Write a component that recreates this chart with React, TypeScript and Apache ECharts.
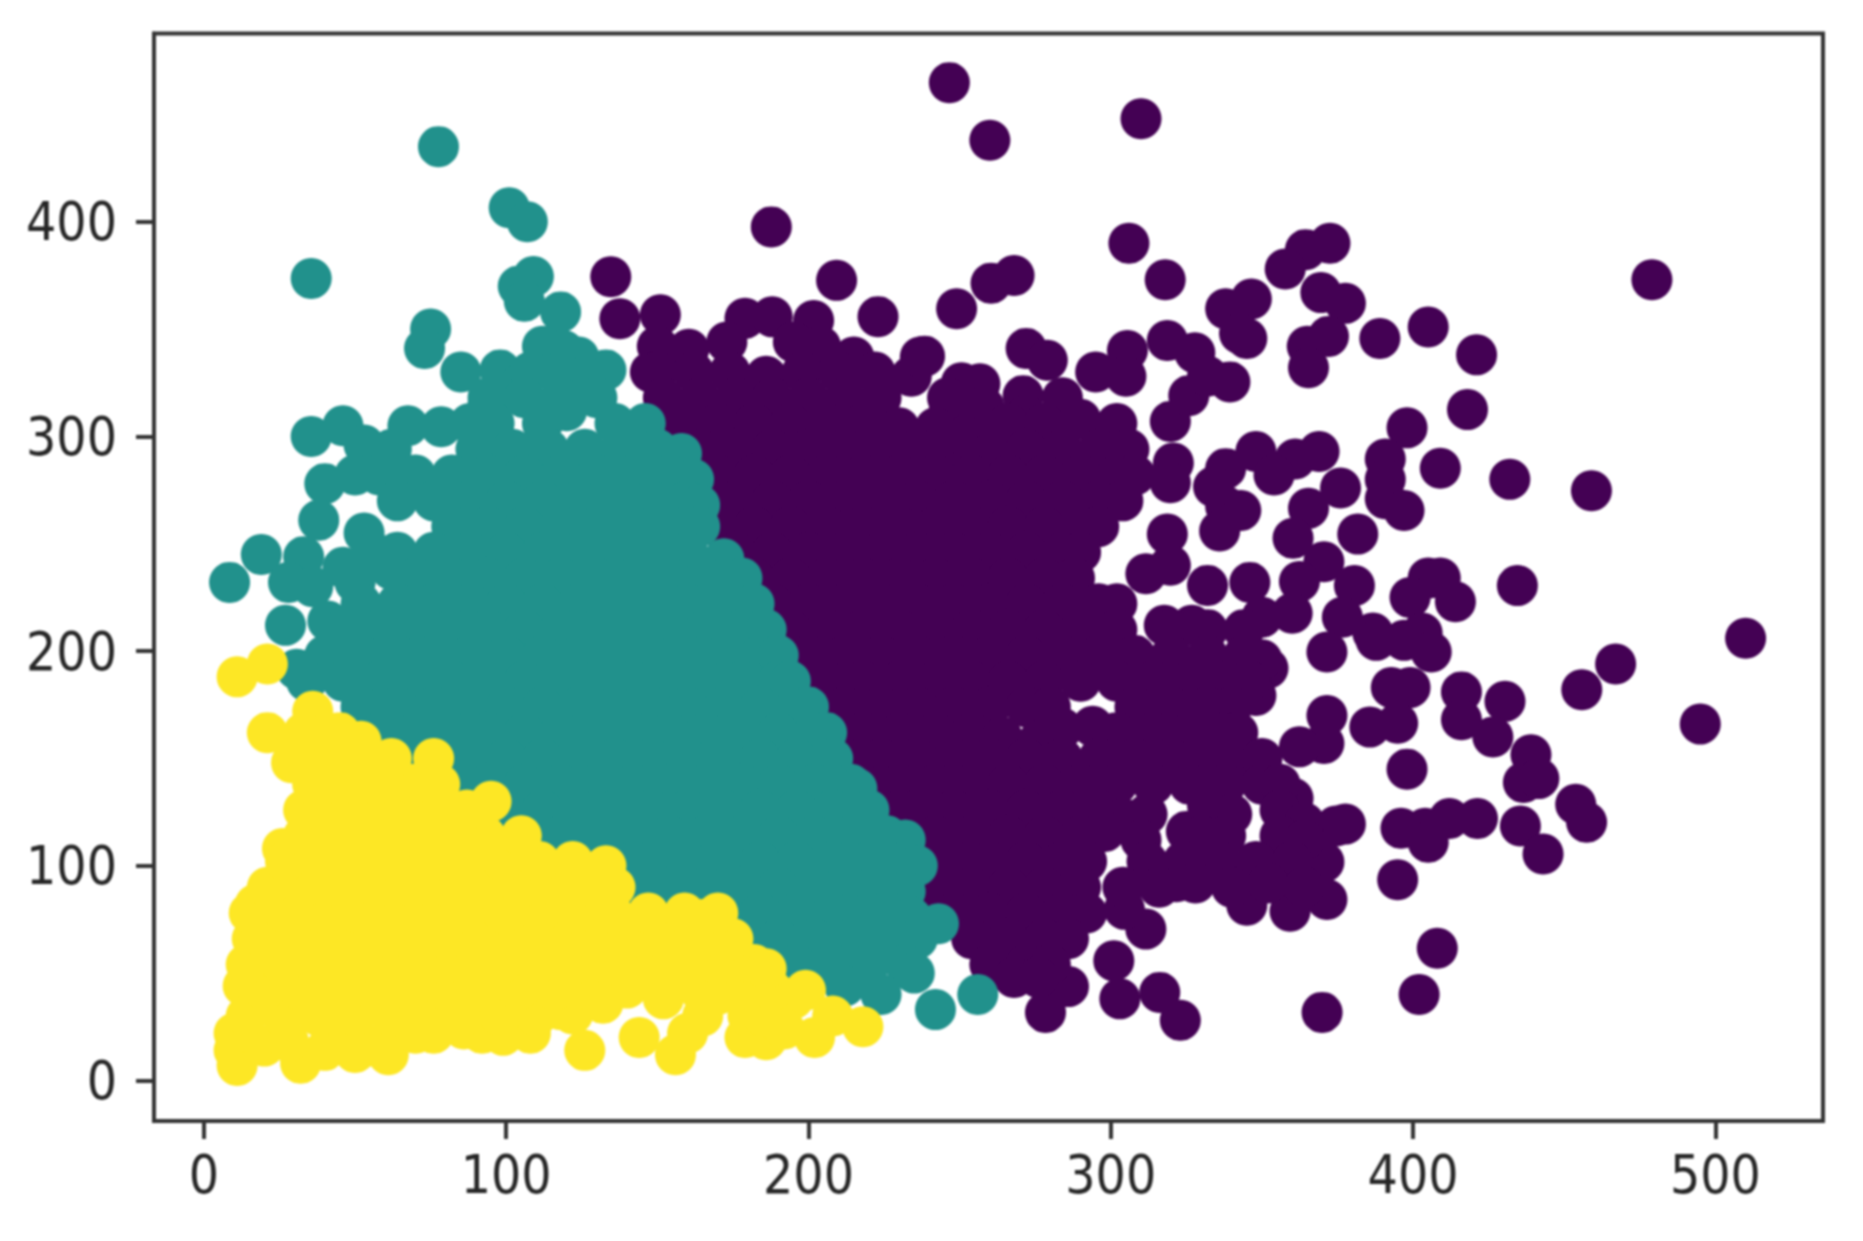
import React, { useEffect, useRef } from "react";
import * as echarts from "echarts";

const xTicks = [0, 100, 200, 300, 400, 500];
const yTicks = [0, 100, 200, 300, 400];

const yellowPoints = [
  [11,7],[32,8],[61,12],[10,14],[126,14],[144,20],[156,12],[179,20],[186,19],[202,20],[218,25],[11,188],[21,194],[21,162],[29,148],[26,108],[17,82],[16,66],[13,44],[10,22],[76,22],[99,21],[108,22],[122,31],[140,43],[40,14],[50,13],[20,16],[165,30],[160,22],[170,40],[189,28],[195,38],[165,75],[95,130],[76,150],[133,100],[36,172],[52,158],
  [28,18],[44,17],[56,16],[70,22],[86,24],[92,22],[118,33],[132,36],[152,38],[180,30],[192,24],
  [14,30],[26,30],[38,30],[50,30],[62,30],[74,30],[86,30],[98,30],[110,30],[185,30],[208,30],
  [20,42],[32,42],[44,42],[56,42],[68,42],[80,42],[92,42],[104,42],[116,42],[128,42],[152,42],[164,42],[176,42],[188,42],[199,42],
  [14,54],[26,54],[38,54],[50,54],[62,54],[74,54],[86,54],[98,54],[110,54],[122,54],[134,54],[146,54],[158,54],[170,54],[182,54],[186,52],
  [20,66],[32,66],[44,66],[56,66],[68,66],[80,66],[92,66],[104,66],[116,66],[128,66],[140,66],[152,66],[164,66],[175,66],
  [15,78],[27,78],[39,78],[51,78],[63,78],[75,78],[87,78],[99,78],[111,78],[123,78],[135,78],[147,78],[159,78],[170,78],
  [21,90],[33,90],[45,90],[57,90],[69,90],[81,90],[93,90],[105,90],[117,90],[129,90],[136,90],
  [27,102],[39,102],[51,102],[63,102],[75,102],[87,102],[99,102],[111,102],[122,102],
  [33,114],[45,114],[57,114],[69,114],[81,114],[93,114],[105,114],
  [33,126],[39,126],[51,126],[63,126],[75,126],[87,126],
  [36,138],[45,138],[57,138],[69,138],[78,138],
  [30,150],[39,150],[51,150],[62,150],
  [33,162],[45,162],
];

const tealPoints = [
  [77.6,435],[101,406.5],[107,400],[35.5,373.6],[109,374.5],[104,370],[106,363],[118,358],[75,350],[73,341],[85,330],[98,331],[133,331],[112,342],[119,340],[124,337],
  [35.5,300],[46,305],[53,296],[67.5,305],[78.5,304.5],[40,278],[50,282],[38,261],[19,245],[8.5,232],[33,244],[28,232],[46,239],[36,230],[27,212],[41,214],[53,255],[94,315],[105,325],[30.7,191.5],[242,33],[256,40],[243,73],
  [108,330],[118,330],[126,328],
  [94,318],[106,318],[118,318],[130,318],
  [88,306],[96,306],[112,306],[120,312],[136,306],[146,306],
  [62,294],[90,294],[102,294],[114,294],[126,294],[138,294],[150,294],[158,292],
  [58,282],[70,282],[82,282],[94,282],[106,282],[118,282],[130,282],[142,282],[154,282],[162,280],
  [64,270],[76,270],[88,270],[100,270],[112,270],[124,270],[136,270],[148,270],[160,270],[164,268],
  [82,258],[94,258],[106,258],[118,258],[130,258],[142,258],[154,258],[164,258],
  [56,246],[64,246],[76,246],[88,246],[100,246],[112,246],[124,246],[136,246],[148,246],[160,246],[172,243],
  [50,232],[62,238],[70,234],[82,234],[94,234],[106,234],[118,234],[130,234],[142,234],[154,234],[166,234],[178,234],
  [52,222],[64,222],[76,222],[88,222],[100,222],[112,222],[124,222],[136,222],[148,222],[160,222],[172,222],[182,222],
  [46,210],[58,210],[70,210],[82,210],[94,210],[106,210],[118,210],[130,210],[142,210],[154,210],[166,210],[178,210],[186,210],
  [40,198],[52,198],[64,198],[76,198],[88,198],[100,198],[112,198],[124,198],[136,198],[148,198],[160,198],[172,198],[184,198],[190,198],
  [34,186],[46,186],[58,186],[70,186],[82,186],[94,186],[106,186],[118,186],[130,186],[142,186],[154,186],[166,186],[178,186],[190,186],[194,186],
  [52,174],[64,174],[76,174],[88,174],[100,174],[112,174],[124,174],[136,174],[148,174],[160,174],[172,174],[184,174],[196,174],[200,174],
  [58,162],[70,162],[82,162],[94,162],[106,162],[118,162],[130,162],[142,162],[154,162],[166,162],[178,162],[190,162],[202,162],[206,162],
  [64,150],[76,150],[88,150],[100,150],[112,150],[124,150],[136,150],[148,150],[160,150],[172,150],[184,150],[196,150],[208,150],
  [82,138],[94,138],[106,138],[118,138],[130,138],[142,138],[154,138],[166,138],[178,138],[190,138],[202,138],[214,138],[216,136],
  [88,126],[100,126],[112,126],[124,126],[136,126],[148,126],[160,126],[172,126],[184,126],[196,126],[208,126],[220,126],
  [106,114],[118,114],[130,114],[142,114],[154,114],[166,114],[178,114],[190,114],[202,114],[214,114],[226,114],[232,112],
  [124,102],[136,102],[148,102],[160,102],[172,102],[184,102],[196,102],[208,102],[220,102],[232,102],[236,100],
  [142,90],[154,90],[166,90],[178,90],[190,90],[202,90],[214,90],[226,90],[232,88],
  [172,78],[184,78],[196,78],[208,78],[220,78],[232,78],[234,76],
  [178,66],[190,66],[202,66],[214,66],[226,66],[236,66],
  [196,54],[208,54],[220,54],[232,54],[235,50],
  [212,44],[224,40],
];

const purplePoints = [
  [246.6,464.8],[260,438],[310,448],[306,390],[318,373],[268,375],[260.4,371.4],[249,359.5],[372.5,390],[364.4,387],[357.7,378],[369.5,367],[377.6,362],[346.5,364],[338,359.5],[345,345.6],[342.6,348],[372,346.6],[365,342],[365.4,332],[389,345.6],[405,351],[421,338],[479,373],[418,312.5],[398,304],[319.7,307],[325.8,319],[339.4,325.4],[332,328],[327.8,339],[318.7,344.7],[305.5,340],[295,330],[305,328],[272,341],[279,335.5],[238.4,337.4],[234,328],[250.6,325],[256.7,324.5],[271,319],[246.6,312.5],[254.7,300.5],[409,285.2],[432,280],[459,274.7],[376,276],[365.4,266.5],[381.7,254.5],[368.9,293],[361,289.5],[348,293],[354,282],[338,285],[320.7,287.6],[319.7,278.4],[390.8,289.5],[390.8,280],[390.8,271],[397,265.5],[338,267.4],[336,256],[343,265.5],[334,276.6],[360.3,252.6],[318.7,254.5],[434.5,230.5],[405,234],[399,225],[414,223],[409,234],[370.5,241.6],[380.6,230.5],[362.4,232.4],[346,232],[332,230.6],[319.7,240],[311.6,236],[376.6,215.8],[360,217.6],[350,215.8],[326.8,212],[317.7,212],[386.7,208.4],[403,208.4],
  [510,206],[467,194],[455.8,182],[495,166],[371.5,199.6],[387.8,205],[397,205],[406,199.6],[392.8,183],[399,183],[394.9,166.4],[385.7,164.6],[371.5,170],[370.5,157],[362.4,155.4],[416,181],[416,168],[430.4,176.6],[426.4,160],[398,145],[439,151.7],[436.5,138.8],[441.6,140.6],[453.8,128.6],[457.4,120.3],[435.5,118.5],[443,105.5],[421.3,122],[412,122],[404,117.5],[396,117.5],[405,111],[394.9,93.5],[377.6,119.4],[374.5,118.5],[408,61.6],[402,40],[369.9,31.7],[323,28],[316.2,41],[303,38],[301,55.7],[278.4,31.7],[286,43.7],[311.6,70.5],[304.5,79.7],[345,81.6],[359.3,78.8],[371.5,84.3],[370.5,101.8],[362,103.7],[344,96],[321.7,92.6],[311.6,94.5],[331.9,105.5],[360.3,131.4],[352,192],[348,179.3],[350,196],
  [134.6,374.4],[137.6,354.8],[187.7,397.6],[209.3,372.7],[223,355.8],[151,356.7],[150,342],[160.4,340.6],[179,355],[188,355.7],[201.7,354],[173,344],[215,337],[237,337],[147.7,330],[195,344],[204,342],
  [150,330],[162,330],[174,330],[186,328],[198,330],[210,330],[222,330],
  [152,318],[164,318],[176,318],[188,318],[200,318],[212,318],[224,318],[246,318],[258,314],[272,310],[284,318],
  [158,306],[170,306],[182,306],[194,306],[206,306],[218,306],[230,304],[242,304],[266,306],[278,306],[290,308],[302,306],
  [164,294],[176,294],[188,294],[200,294],[212,294],[224,294],[236,294],[248,292],[252,300],[260,292],[272,294],[284,294],[296,294],[306,294],
  [170,282],[182,282],[194,282],[206,282],[218,282],[230,282],[242,282],[254,282],[266,282],[278,282],[290,282],[302,282],[308,282],
  [176,270],[188,270],[200,270],[212,270],[224,270],[236,270],[248,270],[260,270],[272,270],[284,270],[296,270],[304,270],
  [170,258],[182,258],[194,258],[206,258],[218,258],[230,258],[242,258],[254,258],[266,258],[278,258],[290,258],[296,258],
  [176,246],[188,246],[200,246],[212,246],[224,246],[236,246],[248,246],[260,246],[272,246],[284,246],[290,246],
  [182,234],[194,234],[206,234],[218,234],[230,234],[242,234],[254,234],[266,234],[278,234],[288,234],
  [188,222],[200,222],[212,222],[224,222],[236,222],[248,222],[260,222],[272,222],[284,222],[296,222],[302,222],
  [194,210],[206,210],[218,210],[230,210],[242,210],[254,210],[266,210],[278,210],[290,210],[302,210],[320,210],[332,210],[344,210],
  [188,198],[200,198],[212,198],[224,198],[236,198],[248,198],[260,198],[272,198],[284,198],[296,198],[308,198],[320,198],[332,198],[344,198],
  [194,186],[206,186],[218,186],[230,186],[242,186],[254,186],[266,186],[278,186],[290,186],[302,186],[314,186],[326,186],[338,186],[346,186],
  [200,174],[212,174],[224,174],[236,174],[248,174],[260,174],[272,174],[280,174],[308,174],[320,174],[332,174],[340,174],
  [206,162],[218,162],[230,162],[242,162],[254,162],[264,160],[276,158],[284,164],[294,165],[302,162],[314,162],[326,162],[338,162],[342,162],
  [212,150],[224,150],[236,150],[248,150],[260,150],[272,150],[284,150],[296,150],[308,150],[320,150],[332,150],[344,150],[350,150],
  [218,138],[230,138],[242,138],[254,138],[266,138],[278,138],[290,138],[302,138],[314,138],[326,138],[338,138],[350,138],[356,138],
  [224,126],[236,126],[248,126],[260,126],[272,126],[284,126],[296,126],[304,122],[312,124],[332,128],[340,124],[356,126],[364,120],
  [230,114],[242,114],[254,114],[266,114],[278,114],[290,114],[298,116],[310,112],[325,116],[330,114],[338,114],[356,114],[364,112],
  [236,102],[248,102],[260,102],[272,102],[284,102],[292,102],[312,102],[324,102],[336,102],[348,102],[360,102],
  [242,90],[254,90],[266,90],[278,90],[290,90],[304,90],[316,90],[328,92],[340,90],[352,92],[364,90],
  [248,78],[260,78],[272,78],[284,78],[292,78],
  [254,66],[266,66],[278,66],[286,66],
  [260,54],[272,54],[280,54],
  [268,48],[276,48],
];

const axisColor = "#333333";
const labelColor = "#262626";
const labelFont = {
  color: labelColor,
  fontFamily: "'DejaVu Sans Condensed', 'DejaVu Sans', sans-serif",
  fontSize: 53,
};

export default function App() {
  const ref = useRef<HTMLDivElement>(null);
  useEffect(() => {
    const chart = echarts.init(ref.current!, null, { renderer: "svg" });
    const series = (name: string, data: number[][], color: string) => ({
      name,
      type: "scatter",
      data,
      symbol: "circle",
      symbolSize: 41,
      silent: true,
      itemStyle: { color, opacity: 1 },
    });
    chart.setOption({
      animation: false,
      backgroundColor: "#ffffff",
      grid: {
        left: 154,
        right: 40,
        top: 33.5,
        bottom: 120,
        show: true,
        borderColor: axisColor,
        borderWidth: 4,
        backgroundColor: "#ffffff",
      },
      xAxis: {
        type: "value",
        min: -16.5,
        max: 535.6,
        splitLine: { show: false },
        axisLine: { onZero: false, lineStyle: { color: axisColor, width: 4 } },
        axisTick: { length: 18, customValues: xTicks, lineStyle: { color: axisColor, width: 4 } },
        axisLabel: { ...labelFont, margin: 27, customValues: xTicks },
      },
      yAxis: {
        type: "value",
        min: -18.9,
        max: 487.7,
        splitLine: { show: false },
        axisLine: { onZero: false, lineStyle: { color: axisColor, width: 4 } },
        axisTick: { length: 18, customValues: yTicks, lineStyle: { color: axisColor, width: 4 } },
        axisLabel: { ...labelFont, margin: 37, customValues: yTicks },
      },
      series: [
        series("cluster 0", purplePoints, "#440154"),
        series("cluster 1", tealPoints, "#21918c"),
        series("cluster 2", yellowPoints, "#fde725"),
      ],
    });
    return () => chart.dispose();
  }, []);
  return (
    <div
      ref={ref}
      style={{ position: "fixed", left: 0, top: 0, width: 1863, height: 1241, background: "#fff", filter: "blur(1px)" }}
    />
  );
}
